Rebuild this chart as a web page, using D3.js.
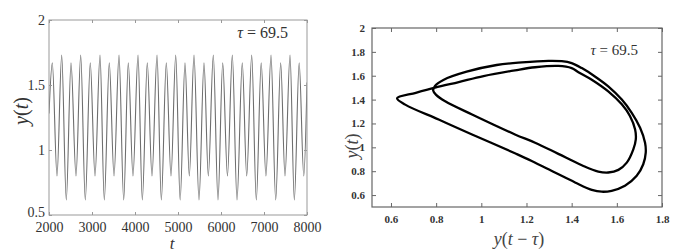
<!DOCTYPE html>
<html>
<head>
<meta charset="utf-8">
<script src="https://cdn.jsdelivr.net/npm/d3@7"></script>
<style>
  body { margin: 0; background: #fff; }
  svg, svg text { font-family: 'Liberation Serif', 'Times New Roman', 'DejaVu Serif', serif; }
</style>
</head>
<body>
<svg id="drawing_region"></svg>
<script>
// left panel: turning points of y(t)
const seriesT = [2000, 2077, 2186, 2295, 2402, 2512, 2628, 2737, 2844, 2960, 3070, 3186, 3286,
    3402, 3512, 3628, 3737, 3844, 3953, 4070, 4170, 4286, 4395, 4512, 4612, 4728, 4837, 4947, 5050,
    5163, 5263, 5372, 5488, 5605, 5705, 5821, 5930, 6040, 6150, 6263, 6372, 6495, 6598, 6714, 6821,
    6935, 7045, 7163, 7272, 7388, 7488, 7605, 7705, 7818, 7925, 8000];
const seriesY = [1.28, 1.67, 0.80, 1.73, 0.615, 1.67, 0.80, 1.73, 0.615, 1.67, 0.80, 1.73, 0.615,
    1.67, 0.80, 1.73, 0.615, 1.67, 0.80, 1.73, 0.615, 1.67, 0.80, 1.73, 0.615, 1.67, 0.80, 1.73, 0.615,
    1.67, 0.80, 1.73, 0.615, 1.67, 0.80, 1.73, 0.615, 1.67, 0.80, 1.73, 0.615, 1.67, 0.80, 1.73, 0.615,
    1.67, 0.80, 1.73, 0.615, 1.67, 0.80, 1.73, 0.615, 1.67, 0.80, 1.52];

// right panel: closed orbit (y(t - tau), y(t)), once round both loops
const orbitX = [0.627, 0.71, 0.795, 0.90, 1.01, 1.149, 1.238, 1.341, 1.40, 1.43, 1.489, 1.562, 1.622,
    1.658, 1.681, 1.684, 1.673, 1.644, 1.607, 1.562, 1.518, 1.445, 1.341, 1.238, 1.149, 0.959, 0.84,
    0.800, 0.787, 0.795, 0.832, 0.935, 1.068, 1.18, 1.297, 1.356, 1.40, 1.445, 1.503, 1.562, 1.622,
    1.666, 1.703, 1.725, 1.728, 1.717, 1.688, 1.636, 1.577, 1.533, 1.489, 1.415, 1.326, 1.223, 1.149,
    0.959, 0.811, 0.663];
const orbitY = [1.412, 1.457, 1.500, 1.547, 1.597, 1.645, 1.671, 1.682, 1.664, 1.630, 1.567, 1.469, 1.360,
    1.263, 1.150, 1.067, 0.983, 0.872, 0.811, 0.789, 0.797, 0.850, 0.945, 1.039, 1.108, 1.275, 1.386,
    1.440, 1.475, 1.515, 1.565, 1.634, 1.690, 1.712, 1.725, 1.722, 1.706, 1.664, 1.594, 1.511, 1.400,
    1.289, 1.164, 1.039, 0.956, 0.858, 0.761, 0.678, 0.636, 0.628, 0.644, 0.706, 0.789, 0.886, 0.950,
    1.108, 1.233, 1.358];

const timeTicks = [2000, 3000, 4000, 5000, 6000, 7000, 8000];
const levelTicks = [0.5, 1, 1.5, 2];
const lagTicks = [0.6, 0.8, 1, 1.2, 1.4, 1.6, 1.8];
const orbitTicks = [0.6, 0.8, 1, 1.2, 1.4, 1.6, 1.8, 2];
const tauText = '69.5';

const SERIF = "'Liberation Serif', 'Times New Roman', 'DejaVu Serif', serif";

const svg = d3.select('#drawing_region')
    .attr('width', 695)
    .attr('height', 252)
    .attr('font-family', SERIF);

svg.append('rect').attr('width', 695).attr('height', 252).attr('fill', '#fff');

// frame with inward ticks on all four sides, labels only left and bottom
function boxAxes(chart, xscale, yscale, w, h, xticks, yticks, st) {
    const mk = (axis, tr, labels) => {
        const g = chart.append('g').attr('transform', tr)
            .call(axis.tickSizeInner(-st.tick).tickSizeOuter(0)
                .tickFormat(labels ? d3.format('') : () => ''));
        g.attr('font-family', SERIF).attr('font-size', st.size);
        g.select('.domain').remove();
        g.selectAll('line').attr('stroke', st.color);
        g.selectAll('text')
            .attr('font-weight', st.weight)
            .attr('fill', st.text);
        return g;
    };
    mk(d3.axisBottom(xscale).tickValues(xticks).tickPadding(st.xpad), `translate(0,${h})`, true);
    const yg = mk(d3.axisLeft(yscale).tickValues(yticks).tickPadding(st.ypad), 'translate(0,0)', true);
    mk(d3.axisTop(xscale).tickValues(xticks), 'translate(0,0)', false);
    mk(d3.axisRight(yscale).tickValues(yticks), `translate(${w},0)`, false);

    // lowest y label sits a little higher, clear of the x labels
    yg.selectAll('text').filter(d => d === yticks[0]).attr('y', -st.lift);

    chart.append('rect')
        .attr('width', w).attr('height', h)
        .attr('fill', 'none')
        .attr('stroke', st.color)
        .attr('stroke-width', st.frame);
}

function mathLabel(parent, parts, attrs) {
    const t = parent.append('text').attr('font-family', SERIF);
    Object.entries(attrs).forEach(([k, v]) => t.attr(k, v));
    parts.forEach(p => t.append('tspan').attr('font-style', p[1] ? 'italic' : 'normal').text(p[0]));
    return t;
}

class TimeSeries {
    constructor(config) {
        this.config = config;
        this.init();
    }
    init() {
        let self = this;
        const c = self.config;
        self.chart = svg.append('g').attr('transform', `translate(${c.left}, ${c.top})`);
        self.xscale = d3.scaleLinear().domain([2000, 8000]).range([0, c.width]);
        self.yscale = d3.scaleLinear().domain([0.5, 2]).range([c.height, 0]);
    }
    render() {
        let self = this;
        const c = self.config;
        const pts = seriesT.map((t, i) => [t, seriesY[i]]);

        self.chart.append('clipPath').attr('id', 'clipL')
            .append('rect').attr('width', c.width).attr('height', c.height);

        self.chart.append('path')
            .datum(pts)
            .attr('clip-path', 'url(#clipL)')
            .attr('fill', 'none')
            .attr('stroke', '#6e6e6e')
            .attr('stroke-width', 1.1)
            .attr('d', d3.line()
                .x(d => self.xscale(d[0]))
                .y(d => self.yscale(d[1]))
                .curve(d3.curveMonotoneX));

        boxAxes(self.chart, self.xscale, self.yscale, c.width, c.height, timeTicks, levelTicks,
            {tick: 3, color: '#999', frame: 1, size: 14, weight: 'normal', text: '#333', xpad: 7, ypad: 4, lift: 3});

        mathLabel(self.chart, [['t', true]],
            {x: 172 - c.left, y: 249 - c.top, 'text-anchor': 'middle', 'font-size': 17, fill: '#333'});
        mathLabel(self.chart, [['y', true], ['(', false], ['t', true], [')', false]],
            {transform: `translate(${21 - c.left}, ${111 - c.top}) rotate(-90)`, 'text-anchor': 'middle',
             'dominant-baseline': 'central', 'font-size': 20, fill: '#333'});
        mathLabel(self.chart, [['τ', true], [' = ' + tauText, false]],
            {x: 288 - c.left, y: 38 - c.top, 'text-anchor': 'end', 'font-size': 16, fill: '#333'});
    }
}

class OrbitPlot {
    constructor(config) {
        this.config = config;
        this.init();
    }
    init() {
        let self = this;
        const c = self.config;
        self.chart = svg.append('g').attr('transform', `translate(${c.left}, ${c.top})`);
        self.xscale = d3.scaleLinear().domain([0.516, 1.8]).range([0, c.width]);
        self.yscale = d3.scaleLinear().domain([0.5, 2]).range([c.height, 0]);
    }
    render() {
        let self = this;
        const c = self.config;
        const pts = orbitX.map((x, i) => [x, orbitY[i]]);

        self.chart.append('path')
            .datum(pts)
            .attr('fill', 'none')
            .attr('stroke', '#000')
            .attr('stroke-width', 2.3)
            .attr('stroke-linejoin', 'round')
            .attr('d', d3.line()
                .x(d => self.xscale(d[0]))
                .y(d => self.yscale(d[1]))
                .curve(d3.curveCatmullRomClosed.alpha(0.5)));

        boxAxes(self.chart, self.xscale, self.yscale, c.width, c.height, lagTicks, orbitTicks,
            {tick: 4, color: '#666', frame: 1.2, size: 11, weight: 'bold', text: '#333', xpad: 8, ypad: 7, lift: 0});

        mathLabel(self.chart, [['y', true], ['(', false], ['t', true], [' − ', false], ['τ', true], [')', false]],
            {x: 519 - c.left, y: 245 - c.top, 'text-anchor': 'middle', 'font-size': 18, fill: '#444'});
        mathLabel(self.chart, [['y', true], ['(', false], ['t', true], [')', false]],
            {transform: `translate(${352 - c.left}, ${146 - c.top}) rotate(-90)`, 'text-anchor': 'middle',
             'dominant-baseline': 'central', 'font-size': 18, fill: '#444'});
        mathLabel(self.chart, [['τ', true], [' = ' + tauText, false]],
            {x: 638 - c.left, y: 55 - c.top, 'text-anchor': 'end', 'font-size': 15, fill: '#333'});
    }
}

const left_chart = new TimeSeries({left: 49, top: 20, width: 258, height: 195});
left_chart.render();

const right_chart = new OrbitPlot({left: 372, top: 28, width: 290, height: 179});
right_chart.render();
</script>
</body>
</html>
